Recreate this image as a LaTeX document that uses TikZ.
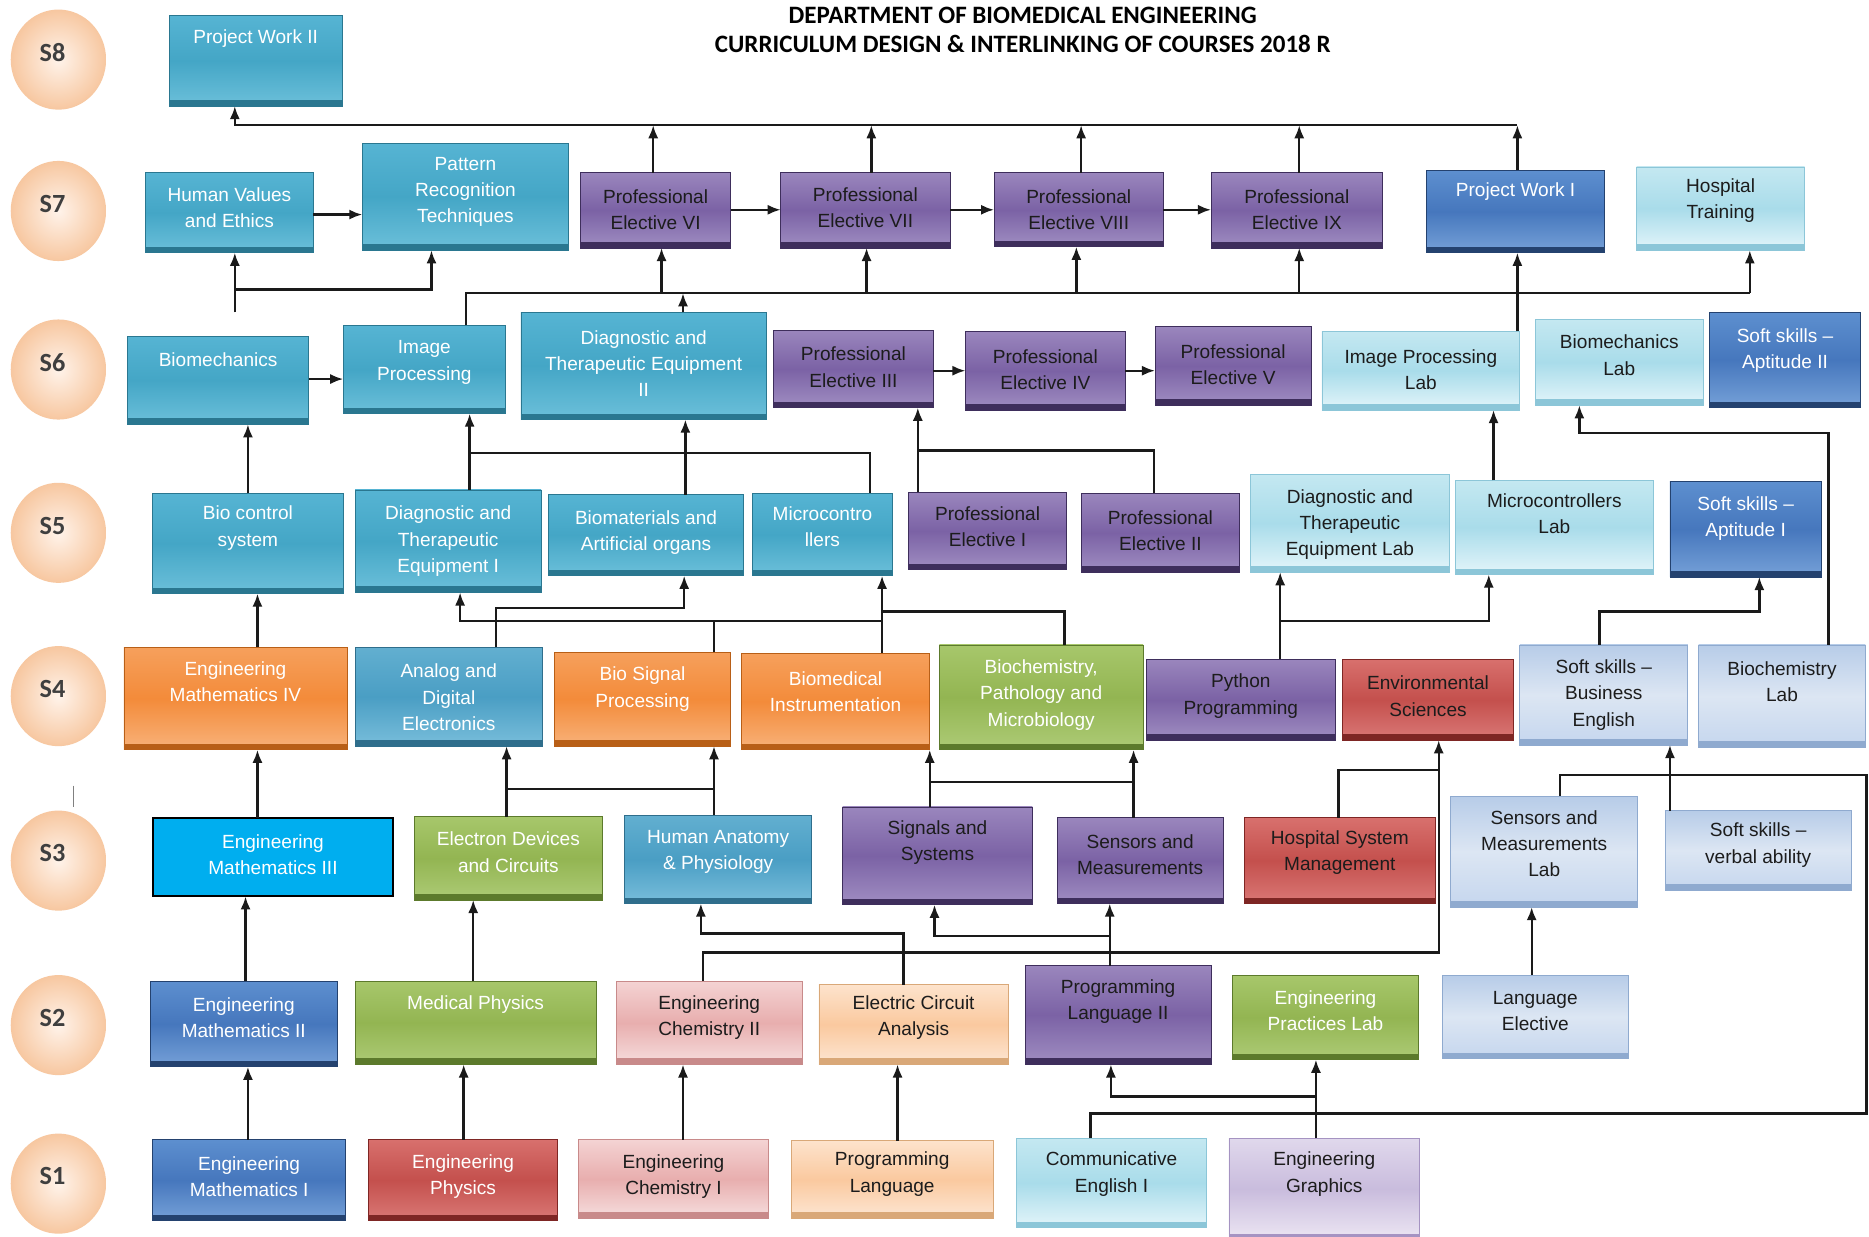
\documentclass[tikz,border=0pt]{standalone}
\usepackage{fontspec}
\setmainfont{Liberation Sans}
\newfontfamily\titlefont{Carlito}
\usetikzlibrary{arrows.meta,calc,shapes.geometric}

\definecolor{cLine}{HTML}{1A1A1A}
\definecolor{cDark}{HTML}{1C1C1C}
\definecolor{cSem}{HTML}{3F3F3F}
\definecolor{semIn}{HTML}{FFF3EA}
\definecolor{semOut}{HTML}{F7C7A0}
\definecolor{brightB}{HTML}{00AEEF}
\newcommand{\defpal}[5]{%
  \definecolor{#1A}{HTML}{#2}\definecolor{#1B}{HTML}{#3}\definecolor{#1C}{HTML}{#4}\definecolor{#1D}{HTML}{#5}}
\defpal{teal}{56B4D3}{44A6C6}{6CC0DA}{2A7790}
\defpal{aqua}{62AFD0}{4A9EC4}{79BEDB}{2F6E8C}
\defpal{purp}{9A86BD}{7B62A5}{A08EC2}{3E2E5C}
\defpal{oran}{F6A05C}{F38B3A}{F8B27A}{B85F17}
\defpal{gree}{A7C76B}{93B552}{ADCB76}{5C7A2C}
\defpal{redd}{D8706D}{C4504D}{DA7876}{7E2624}
\defpal{blue}{5D8FCF}{4677BD}{76A1D8}{24426F}
\defpal{laqu}{C4E8F1}{A9DCEA}{E4F5FA}{8CC6D8}
\defpal{lblu}{B7CCE8}{DCE6F3}{C5D6EE}{8FAACF}
\defpal{lred}{F4D3D3}{E8AEAE}{F6DEDE}{C88A8A}
\defpal{lora}{FDE3CC}{FAC99F}{FDE6D3}{D9A878}
\defpal{lpur}{E0D8EC}{C9BCDD}{ECE6F3}{A593C2}

\newcommand{\crs}[8]{%
  \node[box,#6,minimum width={(#4)-(#2)},minimum height={(#5)-(#3)}] (#1) at ({((#2)+(#4))/2},{((#3)+(#5))/2}) {};
  \node[txt,#6T] (#1-t) at ({((#2)+(#4))/2},#7) {#8};
}

\begin{document}
\begin{tikzpicture}[x=1pt,y=-1pt,
  ln/.style={line width=2pt, draw=cLine},
  arr/.style={ln, -{Latex[length=11pt,width=8.5pt]}},
  box/.style={rectangle, inner sep=0pt, outer sep=0pt},
  bx/.style={top color=#1A, bottom color=#1C, middle color=#1B, draw=#1D, line width=0.6pt,
     path picture={\fill[#1D] (path picture bounding box.south west) rectangle ([yshift=5pt]path picture bounding box.south east);}},
  txt/.style={font=\fontsize{16}{22}\selectfont, align=center, inner sep=0pt, text=cDark},
  bxTeal/.style={bx=teal},
  bxAqua/.style={bx=aqua},
  bxPurple/.style={bx=purp},
  bxOrange/.style={bx=oran},
  bxGreen/.style={bx=gree},
  bxRed/.style={bx=redd},
  bxRedW/.style={bx=redd},
  bxBlue/.style={bx=blue},
  bxLAqua/.style={bx=laqu},
  bxLBlue/.style={bx=lblu},
  bxLRed/.style={bx=lred},
  bxLOrange/.style={bx=lora},
  bxLPurple/.style={bx=lpur},
  bxBright/.style={fill=brightB, draw=black, line width=1.8pt},
  bxTealT/.style={text=white},
  bxAquaT/.style={text=white},
  bxPurpleT/.style={},
  bxOrangeT/.style={text=white},
  bxGreenT/.style={text=white},
  bxRedT/.style={},
  bxRedWT/.style={text=white},
  bxBlueT/.style={text=white},
  bxLAquaT/.style={},
  bxLBlueT/.style={},
  bxLRedT/.style={},
  bxLOrangeT/.style={},
  bxLPurpleT/.style={},
  bxBrightT/.style={text=white},
  sem/.style={ellipse, minimum width=80pt, minimum height=84pt, inner sep=0pt, shading=radial, inner color=semIn, outer color=semOut},
  semtxt/.style={font=\titlefont\bfseries\fontsize{22}{24}\selectfont, text=cSem, inner sep=0pt},
  ttl/.style={font=\titlefont\bfseries\fontsize{21}{24}\selectfont, inner sep=0pt}
]
\useasboundingbox (0,0) rectangle (1568,1037);
\fill[white] (0,0) rectangle (1568,1037);

% title
\node[ttl] (title1) at (858,13) {DEPARTMENT OF BIOMEDICAL ENGINEERING};
\node[ttl] (title2) at (858,37) {CURRICULUM DESIGN \& INTERLINKING OF COURSES 2018 R};

% semester markers
\foreach \s/\y in {8/50,7/177,6/310,5/447,4/584,3/722,2/860,1/993}{
  \node[sem] (s\s) at (49,\y) {};
  \node[semtxt] (s\s-t) at (44,\y-6) {S\s};
}
\draw[line width=1pt, draw=gray] (61.5,659) -- (61.5,677);

% S8
\crs{pw2}{142}{13}{287}{89}{bxTeal}{32}{Project Work II}
% S7
\crs{hv}{122}{145}{263}{212}{bxTeal}{174}{Human Values\\and Ethics}
\crs{pr}{304}{120}{477}{210}{bxTeal}{161}{Pattern\\Recognition\\Techniques}
\crs{pe6}{487}{145}{613}{208}{bxPurple}{176}{Professional\\Elective VI}
\crs{pe7}{655}{145}{797}{208}{bxPurple}{174}{Professional\\Elective VII}
\crs{pe8}{834}{145}{976}{207}{bxPurple}{176}{Professional\\Elective VIII}
\crs{pe9}{1016}{145}{1160}{208}{bxPurple}{176}{Professional\\Elective IX}
\crs{pw1}{1197}{143}{1346}{212}{bxBlue}{161}{Project Work I}
\crs{ht}{1373}{140}{1514}{210}{bxLAqua}{168}{Hospital\\Training}
% S6
\crs{biomech}{107}{282}{259}{356}{bxTeal}{302}{Biomechanics}
\crs{ip}{288}{273}{424}{347}{bxTeal}{304}{Image\\Processing}
\crs{dte2}{437}{262}{643}{352}{bxTeal}{305}{Diagnostic and\\Therapeutic Equipment\\II}
\crs{pe3}{649}{277}{783}{342}{bxPurple}{308}{Professional\\Elective III}
\crs{pe4}{810}{278}{944}{344}{bxPurple}{310}{Professional\\Elective IV}
\crs{pe5}{969}{274}{1100}{340}{bxPurple}{306}{Professional\\Elective V}
\crs{iplab}{1109}{278}{1275}{344}{bxLAqua}{310}{Image Processing\\Lab}
\crs{bmlab}{1288}{268}{1429}{340}{bxLAqua}{298}{Biomechanics\\Lab}
\crs{ss2}{1434}{262}{1561}{342}{bxBlue}{294}{Soft skills –\\Aptitude II}
% S5
\crs{bcs}{128}{414}{288}{498}{bxTeal}{443}{Bio control\\system}
\crs{dte1}{298}{411}{454}{497}{bxTeal}{454}{Diagnostic and\\Therapeutic\\Equipment I}
\crs{bio}{460}{415}{624}{483}{bxTeal}{447}{Biomaterials and\\Artificial organs}
\crs{mc}{631}{414}{749}{483}{bxTeal}{442}{Microcontro\\llers}
\crs{pe1}{762}{413}{895}{478}{bxPurple}{442}{Professional\\Elective I}
\crs{pe2}{907}{414}{1040}{480}{bxPurple}{445}{Professional\\Elective II}
\crs{dtelab}{1049}{398}{1216}{480}{bxLAqua}{440}{Diagnostic and\\Therapeutic\\Equipment Lab}
\crs{mclab}{1221}{403}{1387}{482}{bxLAqua}{431}{Microcontrollers\\Lab}
\crs{ss1}{1401}{404}{1528}{484}{bxBlue}{435}{Soft skills –\\Aptitude I}
% S4
\crs{em4}{104}{543}{291}{629}{bxOrange}{572}{Engineering\\Mathematics IV}
\crs{ade}{298}{543}{455}{626}{bxAqua}{585}{Analog and\\Digital\\Electronics}
\crs{bsp}{465}{547}{613}{626}{bxOrange}{578}{Bio Signal\\Processing}
\crs{bmi}{622}{548}{780}{629}{bxOrange}{580}{Biomedical\\Instrumentation}
\crs{bpm}{788}{541}{959}{629}{bxGreen}{583}{Biochemistry,\\Pathology and\\Microbiology}
\crs{py}{962}{553}{1120}{621}{bxPurple}{584}{Python\\Programming}
\crs{es}{1126}{553}{1270}{621}{bxRed}{584}{Environmental\\Sciences}
\crs{sbe}{1275}{541}{1416}{625}{bxLBlue}{583}{Soft skills –\\Business\\English}
\crs{bclab}{1425}{541}{1565}{627}{bxLBlue}{572}{Biochemistry\\Lab}
% S3
\crs{em3}{128}{686}{330}{752}{bxBright}{717}{Engineering\\Mathematics III}
\crs{edc}{348}{685}{505}{755}{bxGreen}{715}{Electron Devices\\and Circuits}
\crs{hap}{524}{684}{681}{758}{bxAqua}{715}{Human Anatomy\\\& Physiology}
\crs{sas}{707}{677}{866}{759}{bxPurple}{707}{Signals and\\Systems}
\crs{sam}{887}{686}{1026}{758}{bxPurple}{717}{Sensors and\\Measurements}
\crs{hsm}{1044}{686}{1204}{758}{bxRed}{715}{Hospital System\\Management}
\crs{samlab}{1217}{668}{1374}{761}{bxLBlue}{708}{Sensors and\\Measurements\\Lab}
\crs{sva}{1397}{680}{1553}{747}{bxLBlue}{709}{Soft skills –\\verbal ability}
% S2
\crs{em2}{126}{823}{283}{895}{bxBlue}{854}{Engineering\\Mathematics II}
\crs{mp}{298}{823}{500}{893}{bxGreen}{843}{Medical Physics}
\crs{ec2}{517}{823}{673}{893}{bxLRed}{854}{Engineering\\Chemistry II}
\crs{eca}{687}{826}{846}{893}{bxLOrange}{854}{Electric Circuit\\Analysis}
\crs{pl2}{860}{810}{1016}{893}{bxPurple}{840}{Programming\\Language II}
\crs{epl}{1034}{818}{1190}{889}{bxGreen}{848}{Engineering\\Practices Lab}
\crs{le}{1210}{818}{1366}{888}{bxLBlue}{848}{Language\\Elective}
% S1
\crs{em1}{128}{956}{290}{1024}{bxBlue}{987}{Engineering\\Mathematics I}
\crs{ep}{309}{956}{468}{1024}{bxRedW}{987}{Engineering\\Physics}
\crs{ec1}{485}{956}{645}{1022}{bxLRed}{987}{Engineering\\Chemistry I}
\crs{pl}{664}{957}{833}{1022}{bxLOrange}{985}{Programming\\Language}
\crs{ce1}{853}{955}{1012}{1030}{bxLAqua}{985}{Communicative\\English I}
\crs{eg}{1031}{955}{1191}{1040}{bxLPurple}{985}{Engineering\\Graphics}

% ---------- connectors ----------
% to Project Work II
\coordinate (topR) at (1273,105);
\coordinate (topL) at (197,105);
\draw[arr] (topR) -- (topL) -- (pw2.south -| topL);
\foreach \n/\x in {pe6/548,pe7/731,pe8/907,pe9/1090,pw1/1273}{\draw[arr] (\n.north -| \x,0) -- (\x,105);}
% S7 chains
\draw[arr] (hv.east |- 0,180) -- (pr.west |- 0,180);
\draw[arr] (pe6.east |- 0,176) -- (pe7.west |- 0,176);
\draw[arr] (pe7.east |- 0,176) -- (pe8.west |- 0,176);
\draw[arr] (pe8.east |- 0,176) -- (pe9.west |- 0,176);
% S6 -> S7
\coordinate (bmstub) at (197,262);
\draw[arr] (bmstub) -- (hv.south -| bmstub);
\draw[arr] (197,243) -| (pr.south -| 362,0);
\coordinate (ipj) at (391,246);
\draw[ln] (ip.north -| ipj) -- (ipj) -- (1468,246);
\foreach \n/\x in {pe6/555,pe7/727,pe8/903,pe9/1090,ht/1468}{\draw[arr] (\x,246) -- (\n.south -| \x,0);}
\draw[arr] (dte2.north -| 573,0) -- (573,246);
\draw[arr] (iplab.north -| 1273,0) -- (pw1.south -| 1273,0);
% S6 chains
\draw[arr] (biomech.east |- 0,318) -- (ip.west |- 0,318);
\draw[arr] (pe3.east |- 0,311) -- (pe4.west |- 0,311);
\draw[arr] (pe4.east |- 0,311) -- (pe5.west |- 0,311);
% S5 -> S6
\draw[arr] (bcs.north -| 208,0) -- (biomech.south -| 208,0);
\draw[arr] (dte1.north -| 394,0) -- (ip.south -| 394,0);
\draw[ln] (394,380) -- (730,380) -- (mc.north -| 730,0);
\draw[arr] (bio.north -| 575,0) -- (dte2.south -| 575,0);
\draw[arr] (pe1.north -| 770,0) -- (pe3.south -| 770,0);
\draw[ln] (770,378) -- (968,378) -- (pe2.north -| 968,0);
\draw[arr] (mclab.north -| 1253,0) -- (iplab.south -| 1253,0);
\draw[arr] (bclab.north -| 1534,0) -- (1534,363) -| (bmlab.south -| 1325,0);
% S4 -> S5
\draw[arr] (em4.north -| 216,0) -- (bcs.south -| 216,0);
\draw[arr] (ade.north -| 416,0) -- (416,510) -| (bio.south -| 574,0);
\draw[ln] (bsp.north -| 599,0) -- (599,521);
\draw[arr] (740,521) -- (386,521) -- (dte1.south -| 386,0);
\draw[arr] (bmi.north -| 740,0) -- (mc.south -| 740,0);
\draw[ln] (bpm.north -| 893,0) -- (893,513) -- (740,513);
\draw[arr] (py.north -| 1074,0) -- (dtelab.south -| 1074,0);
\draw[arr] (1074,521) -| (mclab.south -| 1249,0);
\draw[arr] (sbe.north -| 1342,0) -- (1342,513) -| (ss1.south -| 1476,0);
% S3 -> S4
\draw[arr] (em3.north -| 216,0) -- (em4.south -| 216,0);
\draw[arr] (edc.north -| 425,0) -- (ade.south -| 425,0);
\draw[ln] (425,662) -- (599,662);
\draw[arr] (hap.north -| 599,0) -- (bsp.south -| 599,0);
\draw[arr] (sas.north -| 780,0) -- (bmi.south -| 780,0);
\draw[ln] (780,656) -- (951,656);
\draw[arr] (sam.north -| 951,0) -- (bpm.south -| 951,0);
\draw[ln] (hsm.north -| 1123,0) -- (1123,646) -- (1207,646);
\draw[arr] (ec2.north -| 590,0) -- (590,799) -- (1207,799) -- (es.south -| 1207,0);
\draw[arr] (sva.north -| 1401,0) -- (sbe.south -| 1401,0);
\draw[ln] (ce1.north -| 915,0) -- (915,934) -- (1566,934) -- (1566,650) -- (1309,650) -- (samlab.north -| 1309,0);
% S2 -> S3
\draw[arr] (em2.north -| 206,0) -- (em3.south -| 206,0);
\draw[arr] (mp.north -| 397,0) -- (edc.south -| 397,0);
\draw[arr] (eca.north -| 758,0) -- (758,783) -- (588,783) -- (hap.south -| 588,0);
\draw[arr] (pl2.north -| 931,0) -- (sam.south -| 931,0);
\draw[arr] (931,785) -- (784,785) -- (sas.south -| 784,0);
\draw[arr] (le.north -| 1285,0) -- (samlab.south -| 1285,0);
% S1 -> S2
\draw[arr] (em1.north -| 208,0) -- (em2.south -| 208,0);
\draw[arr] (ep.north -| 389,0) -- (mp.south -| 389,0);
\draw[arr] (ec1.north -| 573,0) -- (ec2.south -| 573,0);
\draw[arr] (pl.north -| 753,0) -- (eca.south -| 753,0);
\draw[arr] (eg.north -| 1104,0) -- (epl.south -| 1104,0);
\draw[arr] (1104,920) -- (932,920) -- (pl2.south -| 932,0);
\end{tikzpicture}
\end{document}
